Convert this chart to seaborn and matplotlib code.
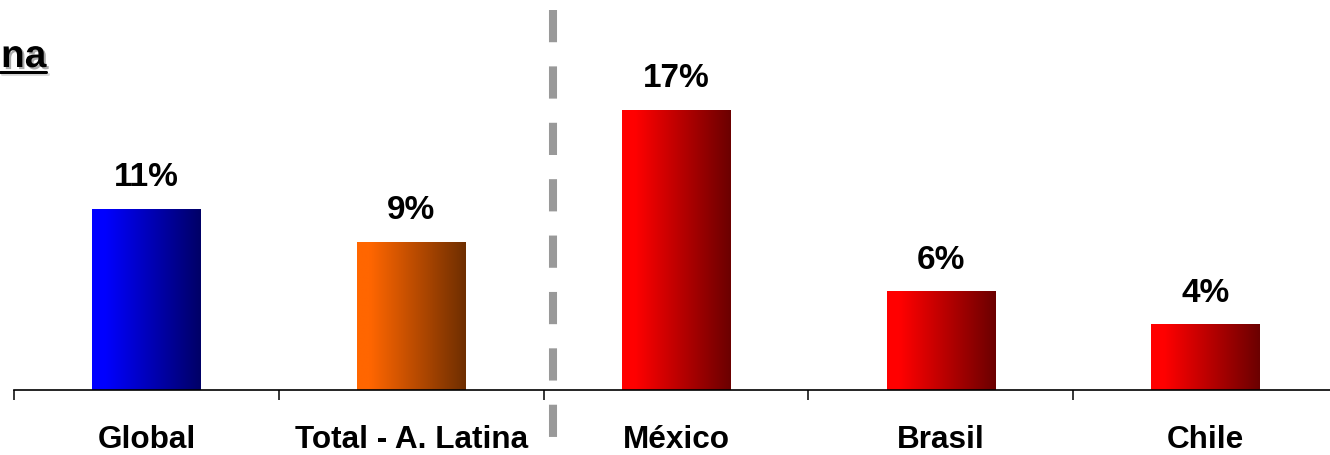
import numpy as np
import matplotlib
matplotlib.use("Agg")
import matplotlib.pyplot as plt
import matplotlib.patheffects as pe
from matplotlib.colors import LinearSegmentedColormap
from matplotlib.lines import Line2D
import matplotlib.transforms as mtransforms
import seaborn as sns

# data
categories = ["Global", "Total - A. Latina", "México", "Brasil", "Chile"]
values = [11, 9, 17, 6, 4]
value_labels = ["11%", "9%", "17%", "6%", "4%"]
color_start = ["#0000FF", "#FF6600", "#FF0000", "#FF0000", "#FF0000"]
color_end = ["#000066", "#6E2E00", "#6B0000", "#6B0000", "#6B0000"]
title_text = "na"

sns.set_theme(style="white")
plt.rcParams["font.family"] = ["Liberation Sans", "DejaVu Sans"]

W, H = 1330, 455
fig = plt.figure(figsize=(W / 100, H / 100), dpi=100)
fig.patch.set_facecolor("white")
ax = fig.add_axes([14 / W, 65 / H, 1324 / W, 390 / H])

sns.barplot(x=categories, y=values, width=0.41, color="white",
            saturation=1, ax=ax)

# horizontal gradient fill on each bar
grad = np.linspace(0, 1, 256).reshape(1, -1)
for bar, c0, c1 in zip(ax.patches, color_start, color_end):
    x0, y0 = bar.get_x(), bar.get_y()
    w, h = bar.get_width(), bar.get_height()
    cmap = LinearSegmentedColormap.from_list("g", [(0, c0), (0.12, c0), (1, c1)])
    im = ax.imshow(grad, cmap=cmap, aspect="auto", interpolation="bilinear",
                   extent=(x0, x0 + w, y0, y0 + h), zorder=2)
    im.set_clip_path(bar)
    bar.set_facecolor("none")
    bar.set_edgecolor("none")

ax.set_xlim(-0.5, 4.5)
ax.set_ylim(0, 390 / 16.5)
ax.set_facecolor("white")
ax.set_ylabel("")
ax.set_xlabel("")
ax.set_yticks([])

for s in ["top", "right", "left"]:
    ax.spines[s].set_visible(False)
ax.spines["bottom"].set_color("black")
ax.spines["bottom"].set_linewidth(1.2)

# boundary ticks (major) and category labels (minor)
ax.set_xticks(np.arange(-0.5, 5, 1))
ax.set_xticklabels([])
ax.set_xticks(range(len(categories)), categories, minor=True)
ax.tick_params(axis="x", which="major", bottom=True, direction="out",
               length=7.5, width=1.1, color="black")
ax.tick_params(axis="x", which="minor", bottom=True, length=0, pad=25,
               labelsize=22.7)
for t in ax.get_xticklabels(minor=True):
    t.set_fontweight("bold")
    t.set_color("black")

# value labels
for i, (v, lab) in enumerate(zip(values, value_labels)):
    ax.annotate(lab, (i, v), xytext=(0, 16), textcoords="offset points",
                ha="center", va="baseline", fontsize=24, fontweight="bold",
                color="black")

# dashed divider between the total and the countries
divider_x = 1.535
trans = mtransforms.blended_transform_factory(ax.transData, ax.transAxes)
ax.plot([divider_x, divider_x], [0.974, -0.17], transform=trans,
        color="#999999", lw=5.8, dashes=(4, 3), clip_on=False, zorder=3)

# title fragment, underlined with shadow
shadow = [pe.withSimplePatchShadow(offset=(1.5, -1.5), shadow_rgbFace="#888888",
                                    alpha=0.7)]
fig.text(1 / W, 1 - 67 / H, title_text, ha="left", va="baseline",
         fontsize=28, fontweight="bold", color="black", path_effects=shadow)
fig.add_artist(Line2D([0, 46 / W], [1 - 71.5 / H, 1 - 71.5 / H], lw=2.2,
                      color="black", transform=fig.transFigure,
                      path_effects=[pe.SimpleLineShadow(offset=(1.5, -1.5),
                                                        shadow_color="#888888"),
                                    pe.Normal()]))

fig.savefig("out.png", dpi=100)
